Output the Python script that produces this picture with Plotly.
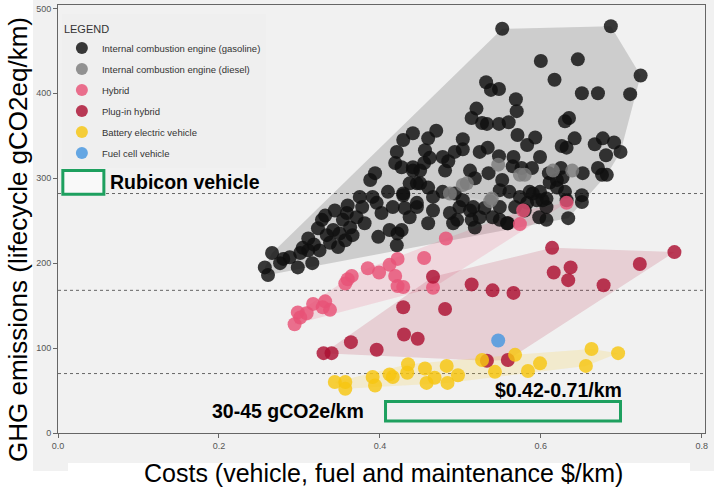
import plotly.graph_objects as go

# ---------------- data (cost $/km, lifecycle GHG gCO2eq/km) ----------------
gas_x = [0.257, 0.261, 0.266, 0.276, 0.280, 0.298, 0.301, 0.304, 0.311, 0.316, 0.323, 0.328, 0.334,
         0.338, 0.342, 0.348, 0.350, 0.354, 0.359, 0.360, 0.363, 0.366, 0.371, 0.375, 0.378, 0.381,
         0.388, 0.394, 0.391, 0.396, 0.402, 0.398, 0.410, 0.412, 0.416, 0.421, 0.419, 0.422, 0.429,
         0.429, 0.431, 0.437, 0.441, 0.441, 0.446, 0.446, 0.421, 0.288, 0.325, 0.357, 0.344, 0.332,
         0.311, 0.318,
         0.552, 0.687, 0.724, 0.711, 0.600, 0.646, 0.617, 0.532, 0.538, 0.548, 0.569, 0.570, 0.651,
         0.671, 0.520, 0.514, 0.527, 0.533, 0.548, 0.560, 0.630, 0.635, 0.571, 0.583, 0.593, 0.642,
         0.626, 0.632, 0.667, 0.677, 0.691, 0.699, 0.681, 0.503, 0.503, 0.493, 0.524, 0.534, 0.548,
         0.566, 0.599, 0.512, 0.535, 0.565, 0.576, 0.589, 0.610, 0.625, 0.652, 0.671, 0.676, 0.682,
         0.518, 0.552, 0.611, 0.620, 0.630, 0.651, 0.651, 0.607, 0.599, 0.586, 0.561, 0.549, 0.530,
         0.549, 0.568, 0.583, 0.595, 0.607, 0.598, 0.607, 0.634, 0.540, 0.549, 0.559, 0.518, 0.496,
         0.512, 0.499, 0.460, 0.456, 0.462, 0.478, 0.481, 0.437, 0.450, 0.460, 0.478, 0.429, 0.446,
         0.466, 0.493, 0.503, 0.516, 0.487, 0.514, 0.524, 0.574, 0.590, 0.602, 0.620, 0.627, 0.632,
         0.558, 0.491, 0.460, 0.427, 0.466, 0.427, 0.450, 0.441, 0.470, 0.485, 0.455, 0.580]
gas_y = [195, 186, 212, 200, 205, 195, 212, 218, 229, 200, 241, 251, 233,
         224, 239, 219, 235, 251, 259, 268, 242, 233, 254, 278, 266, 247,
         298, 306, 278, 271, 259, 231, 284, 239, 266, 331, 318, 235, 345,
         280, 265, 254, 353, 309, 294, 266, 221, 207, 215, 227, 262, 256,
         215, 222,
         476, 479, 421, 399, 438, 440, 416, 413, 404, 405, 393, 379, 400,
         400, 382, 371, 365, 364, 364, 366, 367, 371, 351, 339, 348, 347,
         338, 336, 340, 347, 342, 331, 327, 346, 334, 331, 331, 336, 326,
         325, 325, 309, 306, 314, 312, 312, 306, 312, 306, 312, 304, 304,
         300, 298, 295, 298, 284, 280, 272, 276, 284, 284, 284, 286, 265,
         266, 266, 271, 274, 266, 254, 251, 253, 254, 251, 247, 242, 251,
         262, 266, 347, 333, 324, 325, 309, 294, 294, 289, 284, 282, 271,
         262, 282, 274, 266, 259, 251, 254, 278, 282, 274, 289, 301, 274,
         247, 247, 247, 239, 278, 313, 309, 313, 356, 320, 318, 262]

diesel_x = [0.547, 0.574, 0.580, 0.615, 0.639, 0.539, 0.508, 0.503, 0.487, 0.537]
diesel_y = [316, 304, 304, 309, 309, 276, 294, 292, 282, 273]

hybrid_x = [0.482, 0.455, 0.422, 0.412, 0.419, 0.399, 0.385, 0.365, 0.360, 0.357, 0.422, 0.429,
            0.466, 0.317, 0.332, 0.338, 0.298, 0.309, 0.301, 0.294, 0.632, 0.578, 0.574, 0.329]
hybrid_y = [229, 206, 205, 198, 185, 189, 194, 185, 181, 176, 173, 172,
            171, 152, 155, 145, 142, 141, 136, 128, 271, 262, 246, 148]

phev_x = [0.466, 0.514, 0.540, 0.429, 0.481, 0.430, 0.447, 0.364, 0.396, 0.330, 0.340, 0.533,
          0.559, 0.614, 0.766, 0.723, 0.616, 0.637, 0.634, 0.678, 0.566]
phev_y = [184, 175, 168, 148, 146, 116, 111, 107, 98, 94, 94, 85,
          86, 218, 213, 199, 189, 195, 180, 174, 165]

bev_x = [0.344, 0.357, 0.357, 0.391, 0.394, 0.412, 0.416, 0.434, 0.435, 0.456, 0.458, 0.468,
         0.483, 0.484, 0.497, 0.527, 0.543, 0.568, 0.584, 0.599, 0.656, 0.663, 0.696]
bev_y = [60, 60, 52, 66, 56, 69, 66, 71, 81, 76, 59, 65,
         79, 59, 68, 86, 72, 92, 73, 82, 79, 99, 94]

fcv_x = [0.547]
fcv_y = [109]

thresholds = [282, 168, 70]

x_ticks = [0.0, 0.2, 0.4, 0.6, 0.8]
y_ticks = [0, 100, 200, 300, 400, 500]

# ---------------- helpers ----------------
def hull(xs, ys):
    pts = sorted(set(zip(xs, ys)))
    if len(pts) < 3:
        return pts
    def cr(o, a, b):
        return ((a[0] - o[0]) * 805) * ((b[1] - o[1]) * 0.85) - ((a[1] - o[1]) * 0.85) * ((b[0] - o[0]) * 805)
    lower, upper = [], []
    for p in pts:
        while len(lower) >= 2 and cr(lower[-2], lower[-1], p) <= 0:
            lower.pop()
        lower.append(p)
    for p in reversed(pts):
        while len(upper) >= 2 and cr(upper[-2], upper[-1], p) <= 0:
            upper.pop()
        upper.append(p)
    h = lower[:-1] + upper[:-1]
    h.append(h[0])
    return h

groups = [
    ("Internal combustion engine (gasoline)", gas_x, gas_y, "rgb(15,15,15)", "rgba(0,0,0,0.15)"),
    ("Internal combustion engine (diesel)", diesel_x, diesel_y, "rgb(125,125,125)", "rgba(120,120,120,0.06)"),
    ("Hybrid", hybrid_x, hybrid_y, "rgb(232,82,118)", "rgba(232,82,118,0.16)"),
    ("Plug-in hybrid", phev_x, phev_y, "rgb(172,16,50)", "rgba(172,16,50,0.15)"),
    ("Battery electric vehicle", bev_x, bev_y, "rgb(246,198,16)", "rgba(246,198,16,0.16)"),
    ("Fuel cell vehicle", fcv_x, fcv_y, "rgb(70,150,225)", None),
]

fig = go.Figure()

for name, xs, ys, col, fill in groups:
    if fill is None:
        continue
    h = hull(xs, ys)
    fig.add_trace(go.Scatter(
        x=[p[0] for p in h], y=[p[1] for p in h], mode="lines",
        line=dict(width=0), fill="toself", fillcolor=fill,
        hoverinfo="skip", showlegend=False))

for i, (name, xs, ys, col, fill) in enumerate(groups):
    fig.add_trace(go.Scatter(
        x=xs, y=ys, mode="markers", name=name, legendgroup=f"g{i}",
        marker=dict(size=14, color=col, opacity=0.82, line=dict(width=0)),
    ))

FONT = "Arial, Liberation Sans, sans-serif"

shapes = []
shapes.append(dict(type="rect", xref="paper", yref="paper",
                   x0=(33 - 58) / 647, x1=(714 - 58) / 647,
                   y0=(433 - 471) / 428, y1=(433 + 0) / 428 + 0.02,
                   fillcolor="#f1f1f1", line=dict(width=0), layer="below"))
shapes.append(dict(type="rect", xref="paper", yref="paper",
                   x0=(68 - 58) / 647, x1=(690 - 58) / 647,
                   y0=(433 - 495) / 428, y1=(433 - 463) / 428,
                   fillcolor="white", line=dict(width=0), layer="below"))
for t in thresholds:
    shapes.append(dict(type="line", xref="paper", yref="y", x0=0, x1=1, y0=t, y1=t,
                       line=dict(color="#666", width=1, dash="3px,3px"), layer="below"))
shapes.append(dict(type="rect", xref="x", yref="y", x0=0.006, x1=0.057, y0=281, y1=309,
                   line=dict(color="rgb(30,160,95)", width=3), fillcolor="rgba(255,255,255,0.6)",
                   layer="above"))
shapes.append(dict(type="rect", xref="x", yref="y", x0=0.407, x1=0.699, y0=14, y1=37,
                   line=dict(color="rgb(30,160,95)", width=3), fillcolor="rgba(255,255,255,0)",
                   layer="above"))

annotations = [
    dict(x=0.062, y=296, xref="x", yref="y", text="<b>Rubicon vehicle</b>", showarrow=False,
         xanchor="left", yanchor="middle", font=dict(family=FONT, size=19.5, color="black")),
    dict(x=0.286, y=26, xref="x", yref="y", text="<b>30-45 gCO2e/km</b>", showarrow=False,
         xanchor="center", yanchor="middle", font=dict(family=FONT, size=19.5, color="black")),
    dict(x=0.540, y=51, xref="x", yref="y", text="<b>$0.42-0.71/km</b>", showarrow=False,
         xanchor="left", yanchor="middle", font=dict(family=FONT, size=19.5, color="black")),
    # axis titles
    dict(x=(18 - 58) / 647, y=(433 - 240) / 428, xref="paper", yref="paper",
         text="GHG emissions (lifecycle gCO2eq/km)", textangle=-90, showarrow=False,
         xanchor="center", yanchor="middle", font=dict(family=FONT, size=26, color="black")),
    dict(x=(383 - 58) / 647, y=(433 - 473) / 428, xref="paper", yref="paper",
         text="Costs (vehicle, fuel and maintenance $/km)", showarrow=False,
         xanchor="center", yanchor="middle", font=dict(family=FONT, size=25, color="black")),
]

fig.update_layout(
    width=714, height=491,
    margin=dict(l=58, r=9, t=5, b=58),
    paper_bgcolor="white", plot_bgcolor="white",
    font=dict(family=FONT, color="#333"),
    shapes=shapes, annotations=annotations,
    legend=dict(
        x=0.006, y=0.979, xanchor="left", yanchor="top",
        bgcolor="#efefef", borderwidth=0,
        title=dict(text="<span style='font-size:11px'>LEGEND</span>", font=dict(size=15, color="#333")),
        font=dict(size=9.5, color="#333"), itemsizing="constant",
        tracegroupgap=2,
    ),
    xaxis=dict(range=[0, 0.804], tickvals=x_ticks, ticktext=[f"{v:.1f}" for v in x_ticks],
               showgrid=False, zeroline=False, showline=True, linecolor="#666", mirror=True,
               ticks="outside", ticklen=4, tickcolor="#666",
               tickfont=dict(size=9, color="#555")),
    yaxis=dict(range=[0, 504], tickvals=y_ticks,
               showgrid=False, zeroline=False, showline=True, linecolor="#666", mirror=True,
               ticks="outside", ticklen=4, tickcolor="#666",
               tickfont=dict(size=9, color="#555")),
)

fig.write_html("out.html")
